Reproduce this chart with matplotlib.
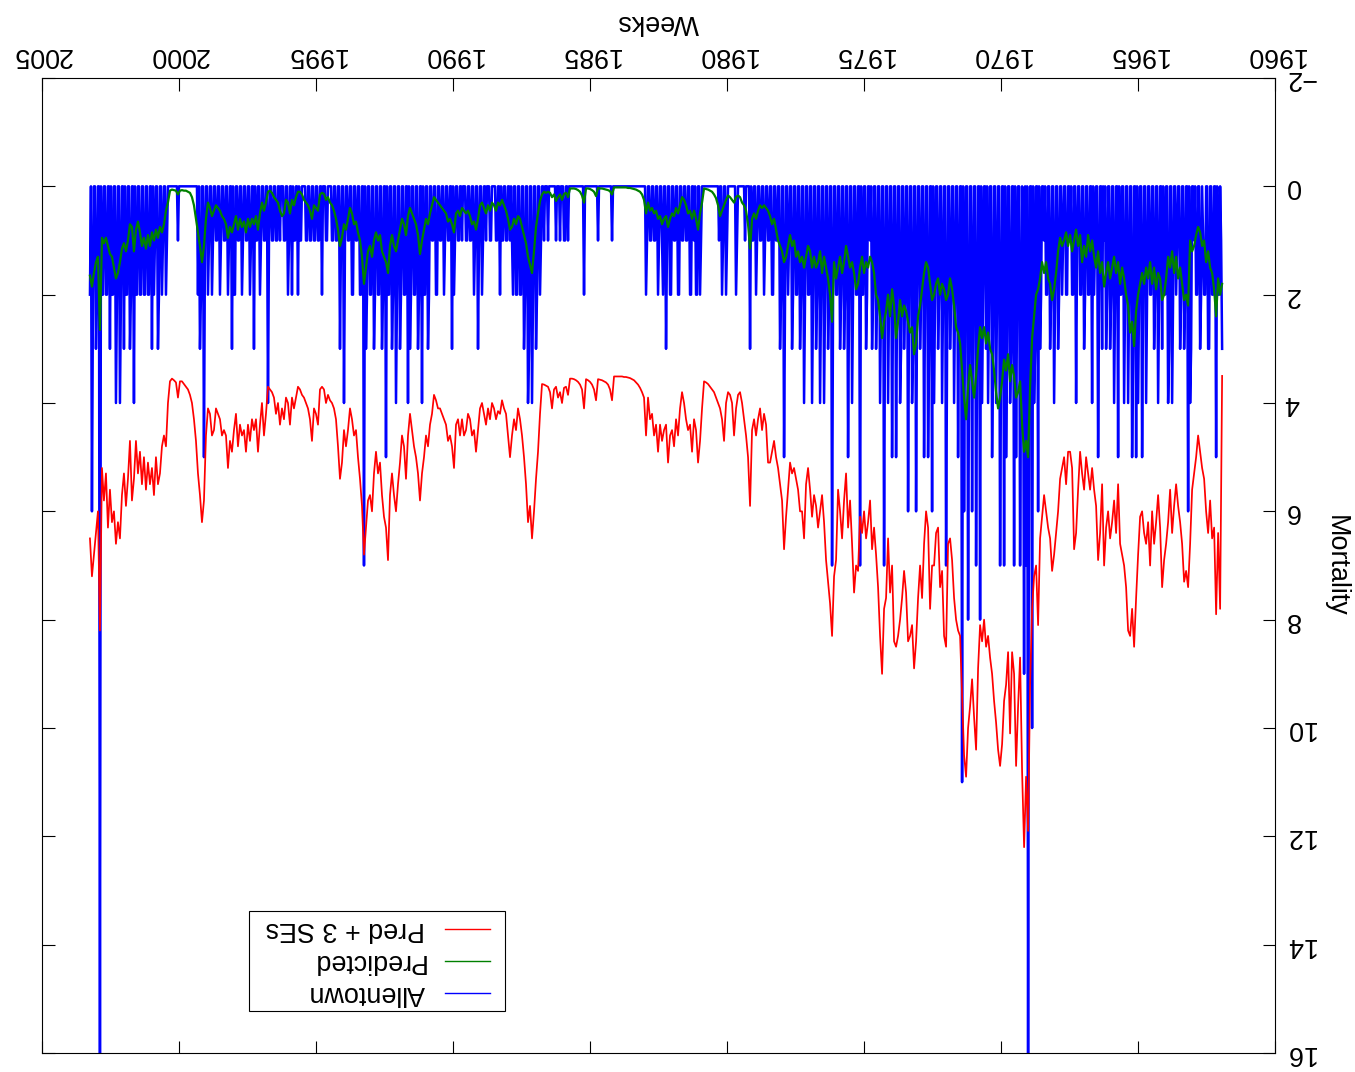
import numpy as np
import matplotlib
matplotlib.use('Agg')
import matplotlib.pyplot as plt
from matplotlib.patches import Rectangle

plt.rcParams['font.family'] = ['Liberation Sans', 'DejaVu Sans']

# weekly mortality, Allentown, Dec 1961 - Mar 2003
t_start, t_end = 1961.93, 2003.25

# observed counts, one character per sample (base 36: a=10, b=11, g=16)
allentown_rows = [
    "31022050022003300221", "02300220100340600230", "02300120024003400220",
    "30024002300220024002", "50024050035002400240", "02205002400230023010",
    "30025001204002200230", "02200140022010022001", "20023002400230022010",
    "0230600340a003g07092", "03700250700340035070", "03700240035002403002",
    "40800370026003800260", "b0025002400230037002", "40023002406003500250",
    "02300260034002600230", "03400250025002400270", "02400230023010023002",
    "20700220024002500230", "02300220027002300240", "02400230024002200240",
    "02300220023001200250", "02300110022001100120", "01100120011030000100",
    "00000120000000012001", "20010000000000000000", "01200220100220011001",
    "10022001100220013002", "10012001100110012000", "00000000000000000000",
    "00000000001000000000", "00001000000000000020", "00000000000000100110",
    "00100010000000100010", "01200230024003400230", "02200220021010011001",
    "10200110000110001001", "20013001200110011000", "10011001203001100120",
    "01100220011002300220", "40023002200230400220", "02300240023002205002",
    "30022002300220023070", "02200110022001100140", "01300110011000011000",
    "20011001100110011000", "01102001102001200110", "00100110011001400110",
    "01200110300120011001", "20011002203001200110", "01200110012001200150",
    "02302000000000000000", "00001000000000012001", "20023001203002200220",
    "02200220400230022030", "02400240022030022002", "20g0023002602",
]
allentown = [int(c, 36) for c in "".join(allentown_rows)]

# model values, one sample about every four weeks
predicted = [
    1.8, 2.0, 1.7, 2.4, 1.9, 1.6, 1.5, 1.2, 1.4, 1.0,
    1.1, 0.85, 0.75, 0.9, 1.1, 1.2, 1.0, 2.2, 2.0, 2.1,
    1.8, 1.5, 1.7, 1.3, 1.6, 1.2, 1.5, 1.3, 1.7, 2.0,
    2.1, 1.7, 1.6, 1.9, 1.5, 1.8, 1.4, 1.7, 1.5, 1.8,
    1.6, 1.8, 2.0, 2.3, 2.95, 2.5, 2.7, 2.2, 2.0, 1.7,
    1.5, 1.8, 1.4, 1.6, 1.3, 1.5, 1.7, 1.4, 1.6, 1.85,
    1.4, 1.6, 1.2, 1.5, 1.3, 1.0, 1.2, 0.9, 1.3, 1.1,
    1.4, 0.9, 1.1, 0.8, 1.0, 1.2, 0.9, 1.1, 0.85, 1.0,
    1.1, 0.95, 1.2, 1.6, 1.9, 2.1, 1.8, 1.7, 1.4, 1.6,
    1.4, 1.7, 1.9, 2.0, 2.4, 2.8, 3.7, 5.0, 4.7, 4.9,
    4.4, 3.6, 3.8, 3.9, 3.5, 3.3, 3.6, 3.1, 3.4, 3.2,
    3.6, 3.9, 4.1, 3.8, 3.4, 3.1, 3.0, 2.7, 2.9, 2.6,
    2.8, 2.6, 3.0, 3.5, 3.9, 3.6, 3.3, 3.7, 4.3, 3.9,
    3.4, 2.9, 2.7, 2.6, 2.2, 1.9, 1.7, 2.0, 2.1, 1.9,
    1.8, 2.0, 1.7, 1.8, 2.0, 2.1, 1.8, 1.5, 1.4, 1.6,
    1.9, 2.2, 2.4, 2.9, 3.1, 2.6, 2.7, 2.5, 2.3, 2.2,
    2.4, 2.1, 2.5, 2.8, 2.2, 1.9, 2.4, 2.0, 2.3, 2.5,
    2.8, 2.4, 2.1, 2.0, 1.6, 1.4, 1.3, 1.5, 1.4, 1.6,
    1.3, 1.5, 1.8, 1.9, 1.6, 1.4, 1.5, 1.3, 1.1, 1.4,
    1.6, 1.3, 1.5, 1.7, 1.4, 2.5, 2.0, 1.7, 1.5, 1.3,
    1.6, 1.2, 1.4, 1.5, 1.3, 1.5, 1.2, 1.1, 1.3, 1.5,
    1.3, 1.4, 1.2, 1.3, 1.0, 1.1, 0.9, 1.1, 1.3, 1.4,
    1.2, 1.1, 1.0, 0.8, 0.6, 0.7, 0.55, 0.45, 0.4, 0.35,
    0.4, 0.35, 0.45, 0.6, 0.5, 0.6, 1.15, 0.7, 0.45, 0.35,
    0.3, 0.2, 0.17, 0.2, 0.3, 0.25, 0.2, 0.17, 0.25, 0.35,
    0.45, 0.55, 0.35, 0.22, 0.15, 0.1, 0.08, 0.06, 0.05, 0.04,
    0.3, 0.5, 0.8, 0.6, 0.45, 0.6, 0.45, 0.5, 0.35, 0.25,
    0.2, 0.35, 0.5, 0.4, 0.55, 0.5, 0.6, 0.75, 0.55, 0.6,
    0.7, 0.55, 0.6, 0.45, 0.5, 0.4, 0.45, 0.3, 0.5, 0.25,
    0.15, 0.1, 0.08, 0.06, 0.05, 0.04, 0.03, 0.03, 0.02, 0.02,
    0.02, 0.02, 0.02, 0.02, 0.02, 0.15, 0.09, 0.07, 0.06, 0.05,
    0.04, 0.04, 0.03, 0.18, 0.1, 0.07, 0.05, 0.04, 0.04, 0.3,
    0.17, 0.1, 0.07, 0.05, 0.04, 0.04, 0.04, 0.2, 0.12, 0.14,
    0.25, 0.15, 0.2, 0.27, 0.15, 0.2, 0.12, 0.1, 0.12, 0.1,
    0.15, 0.27, 0.5, 0.75, 1.2, 1.6, 1.45, 1.3, 1.05, 0.9,
    0.75, 0.6, 0.55, 0.7, 0.6, 0.75, 0.8, 0.6, 0.45, 0.35,
    0.25, 0.35, 0.3, 0.45, 0.35, 0.3, 0.45, 0.35, 0.5, 0.4,
    0.3, 0.35, 0.6, 0.8, 0.65, 0.7, 0.55, 0.45, 0.5, 0.45,
    0.4, 0.55, 0.45, 0.5, 0.85, 0.7, 0.6, 0.65, 0.5, 0.45,
    0.4, 0.35, 0.3, 0.25, 0.2, 0.35, 0.5, 0.7, 0.6, 0.8,
    1.0, 1.25, 0.9, 0.7, 0.6, 0.5, 0.4, 0.55, 0.9, 0.7,
    0.6, 0.8, 1.0, 1.2, 1.1, 0.9, 1.1, 1.6, 1.4, 1.3,
    1.2, 0.9, 1.0, 0.85, 1.0, 1.3, 1.1, 1.2, 1.5, 1.8,
    1.3, 1.0, 0.85, 0.65, 0.7, 0.5, 0.4, 0.6, 0.8, 0.7,
    0.95, 1.1, 0.8, 0.6, 0.45, 0.35, 0.3, 0.2, 0.25, 0.14,
    0.12, 0.15, 0.45, 0.4, 0.35, 0.6, 0.45, 0.35, 0.3, 0.25,
    0.15, 0.1, 0.1, 0.2, 0.35, 0.25, 0.5, 0.3, 0.25, 0.5,
    0.55, 0.45, 0.3, 0.25, 0.2, 0.12, 0.08, 0.1, 0.3, 0.45,
    0.3, 0.5, 0.8, 0.55, 0.7, 0.6, 0.75, 0.6, 0.85, 0.65,
    0.75, 0.6, 0.8, 0.55, 0.7, 0.85, 0.75, 0.95, 0.7, 0.6,
    0.55, 0.45, 0.4, 0.35, 0.45, 0.55, 0.4, 0.3, 0.6, 1.1,
    1.4, 1.1, 0.85, 0.6, 0.35, 0.2, 0.12, 0.1, 0.08, 0.08,
    0.07, 0.08, 0.15, 0.08, 0.07, 0.06, 0.08, 0.3, 0.45, 0.7,
    0.85, 0.75, 0.95, 0.8, 1.0, 0.85, 1.1, 0.9, 1.15, 0.95,
    1.1, 0.85, 0.65, 0.8, 1.2, 0.75, 0.7, 1.0, 1.2, 1.05,
    1.15, 1.4, 1.6, 1.7, 1.5, 1.3, 1.25, 1.1, 0.95, 1.05,
    0.95, 2.65, 1.3, 1.4, 1.6, 1.85, 1.65,
]

pred_3se = [
    3.5, 7.8, 6.4, 7.9, 6.3, 6.5, 5.8, 6.4, 6.0, 5.4,
    5.2, 4.9, 4.6, 5.0, 5.3, 5.6, 6.6, 7.4, 7.1, 7.3,
    6.6, 6.2, 5.9, 5.5, 5.9, 6.4, 5.6, 6.2, 6.6, 6.9,
    7.4, 6.3, 5.7, 6.2, 6.6, 6.0, 7.0, 6.2, 6.6, 6.4,
    6.0, 6.1, 6.8, 7.6, 8.5, 7.8, 8.3, 8.2, 7.4, 7.0,
    6.8, 6.6, 5.5, 6.4, 5.8, 6.2, 6.5, 6.0, 6.3, 7.0,
    5.5, 6.4, 6.9, 5.9, 5.6, 5.2, 5.6, 5.3, 5.0, 5.6,
    5.3, 4.9, 5.6, 6.4, 6.7, 5.2, 4.9, 4.9, 5.5, 5.0,
    5.2, 5.4, 6.0, 6.4, 6.8, 7.1, 6.5, 6.3, 6.0, 5.7,
    6.1, 6.5, 8.1, 7.0, 7.2, 7.8, 9.2, 11.9, 10.9, 12.2,
    10.8, 8.7, 9.6, 10.7, 9.0, 8.6, 10.1, 8.6, 9.2, 9.5,
    10.3, 10.7, 10.4, 9.9, 9.5, 9.0, 8.7, 8.3, 8.5, 8.0,
    8.4, 8.1, 8.9, 10.4, 9.8, 9.1, 9.6, 10.0, 10.9, 10.5,
    9.4, 8.3, 8.2, 8.0, 7.6, 6.9, 6.5, 6.6, 8.5, 8.3,
    7.1, 7.4, 6.3, 6.4, 7.0, 7.0, 7.8, 6.3, 6.0, 6.6,
    7.6, 7.0, 7.6, 8.4, 8.9, 8.1, 8.3, 8.4, 7.5, 7.1,
    7.6, 8.0, 8.3, 8.5, 8.4, 7.0, 7.5, 6.5, 7.6, 7.8,
    9.0, 8.3, 7.4, 6.8, 6.3, 6.7, 5.8, 6.2, 6.5, 6.0,
    6.4, 6.1, 7.1, 7.0, 7.5, 6.6, 5.8, 6.3, 5.3, 5.8,
    6.5, 6.0, 5.6, 6.9, 7.2, 8.3, 7.7, 7.3, 6.9, 6.2,
    5.7, 6.0, 6.3, 5.9, 5.7, 6.1, 5.6, 5.2, 5.5, 6.5,
    6.0, 6.0, 5.6, 5.4, 5.2, 5.3, 5.1, 5.6, 6.1, 6.7,
    5.8, 5.5, 5.2, 5.0, 4.7, 4.9, 5.1, 5.1, 4.4, 4.2,
    4.5, 4.1, 4.3, 4.6, 4.3, 4.5, 5.9, 5.0, 4.6, 4.3,
    4.0, 3.8, 3.85, 4.1, 4.6, 4.0, 3.85, 3.8, 4.0, 4.7,
    4.3, 4.1, 4.0, 3.9, 3.8, 3.75, 3.7, 3.65, 3.62, 3.6,
    4.1, 4.7, 5.1, 4.5, 4.3, 4.9, 4.4, 4.5, 4.3, 4.0,
    3.8, 4.1, 4.6, 4.3, 4.8, 4.5, 4.6, 5.1, 4.4, 4.5,
    4.7, 4.4, 4.9, 4.4, 4.6, 4.2, 4.3, 3.9, 4.6, 3.9,
    3.8, 3.72, 3.66, 3.62, 3.58, 3.56, 3.54, 3.53, 3.52, 3.52,
    3.51, 3.51, 3.51, 3.51, 3.51, 3.95, 3.75, 3.66, 3.62, 3.6,
    3.58, 3.57, 3.56, 3.95, 3.75, 3.66, 3.61, 3.58, 3.56, 4.1,
    3.75, 3.66, 3.61, 3.58, 3.56, 3.55, 3.55, 3.85, 3.7, 3.72,
    4.0, 3.8, 3.9, 3.7, 3.75, 4.1, 3.8, 3.7, 3.68, 3.66,
    3.65, 4.2, 4.9, 5.4, 6.0, 6.5, 5.9, 6.2, 5.5, 5.0,
    4.6, 4.3, 4.1, 4.5, 4.3, 4.6, 5.0, 4.6, 4.2, 4.1,
    3.95, 4.2, 4.15, 4.3, 4.1, 4.0, 4.3, 4.1, 4.4, 4.2,
    4.0, 4.1, 4.5, 4.9, 4.5, 4.6, 4.3, 4.2, 4.5, 4.6,
    4.3, 4.6, 4.3, 4.4, 5.2, 4.8, 4.6, 4.7, 4.4, 4.3,
    4.2, 4.1, 4.1, 3.95, 3.85, 4.2, 4.4, 4.8, 4.6, 5.0,
    5.3, 5.8, 5.3, 5.0, 4.8, 4.5, 4.2, 4.6, 5.4, 4.8,
    4.6, 5.1, 5.5, 6.0, 5.7, 5.3, 5.7, 6.9, 6.3, 6.1,
    5.7, 5.1, 5.3, 4.9, 5.3, 6.0, 5.7, 5.8, 6.3, 6.8,
    5.9, 5.4, 5.0, 4.5, 4.6, 4.3, 4.1, 4.5, 4.8, 4.5,
    5.1, 5.4, 4.8, 4.3, 4.1, 4.0, 3.95, 3.85, 4.0, 3.75,
    3.7, 3.75, 4.4, 4.2, 4.1, 4.7, 4.3, 4.1, 4.0, 3.9,
    3.85, 3.75, 3.7, 3.9, 4.1, 3.9, 4.4, 4.0, 3.9, 4.3,
    4.1, 4.4, 4.0, 4.2, 3.9, 3.8, 3.75, 3.7, 4.2, 4.6,
    4.0, 4.4, 4.9, 4.3, 4.5, 4.3, 4.7, 4.4, 4.9, 4.5,
    4.6, 4.4, 4.8, 4.2, 4.5, 4.9, 4.7, 5.2, 4.6, 4.5,
    4.6, 4.3, 4.2, 4.1, 4.5, 4.6, 4.2, 4.1, 4.6, 5.8,
    6.2, 5.7, 5.3, 4.7, 4.3, 4.0, 3.85, 3.75, 3.7, 3.65,
    3.6, 3.6, 3.9, 3.62, 3.58, 3.55, 3.6, 4.0, 4.8, 4.6,
    4.8, 5.3, 5.5, 5.0, 5.7, 5.2, 5.5, 5.1, 5.6, 5.0,
    5.5, 4.9, 5.3, 4.7, 5.4, 5.8, 4.7, 5.4, 5.9, 5.3,
    5.7, 6.5, 6.2, 6.6, 6.0, 6.2, 5.6, 6.3, 5.3, 5.8,
    5.2, 8.2, 6.0, 6.4, 6.8, 7.2, 6.5,
]

year_ticks = np.arange(1960, 2006, 5)
mort_ticks = np.arange(-2, 17, 2)
series_labels = ['Allentown', 'Predicted', 'Pred + 3 SEs']
series_colors = ['#0000ff', '#008000', '#ff0000']

t_obs = np.linspace(t_start, t_end, len(allentown))
t_fit = np.linspace(t_start, t_end, len(pred_3se))

W, H = 1355, 1072
fig = plt.figure(figsize=(W / 100, H / 100), dpi=100)
fig.patch.set_facecolor('white')
ax = fig.add_axes([42 / W, 1 - 1053 / H, (1275 - 42) / W, (1053 - 78) / H])

ax.plot(t_obs, allentown, color=series_colors[0], lw=1.8)
ax.plot(t_fit, predicted, color=series_colors[1], lw=1.6)
ax.plot(t_fit, pred_3se, color=series_colors[2], lw=1.25)

# the whole plot is drawn turned upside down
ax.set_xlim(2005, 1960)
ax.set_ylim(16, -2)
ax.set_xticks(year_ticks)
ax.set_yticks(mort_ticks)
ax.tick_params(direction='in', length=9, width=0.8,
               top=True, bottom=True, left=True, right=True,
               labeltop=True, labelbottom=False,
               labelleft=False, labelright=True,
               labelsize=19.4, labelrotation=180, pad=7)
for tk in ax.yaxis.get_major_ticks():
    tk.label2.set_va('center')
for s in ax.spines.values():
    s.set_linewidth(0.8)

fig.text(658 / W, 1 - 22 / H, 'Weeks', rotation=180, ha='center', va='center',
         fontsize=19.4)
fig.text(1336 / W, 1 - 566 / H, 'Mortality', rotation=270, ha='center',
         va='center', fontsize=19.4)

# key box, lower left
ax.add_patch(Rectangle((0.1679, 0.0431), 0.2076, 0.1025, transform=ax.transAxes,
                       facecolor='white', edgecolor='black', lw=0.8, zorder=5))
for lab, col, fy in zip(series_labels, series_colors, [0.0615, 0.0944, 0.1272]):
    ax.plot([0.3268, 0.3633], [fy, fy], transform=ax.transAxes, color=col,
            lw=1.0, zorder=6)
    ax.text(0.3106, fy, lab, transform=ax.transAxes, rotation=180,
            ha='right', va='center', fontsize=19.4, zorder=6)

fig.savefig('out.png', dpi=100, facecolor='white')
